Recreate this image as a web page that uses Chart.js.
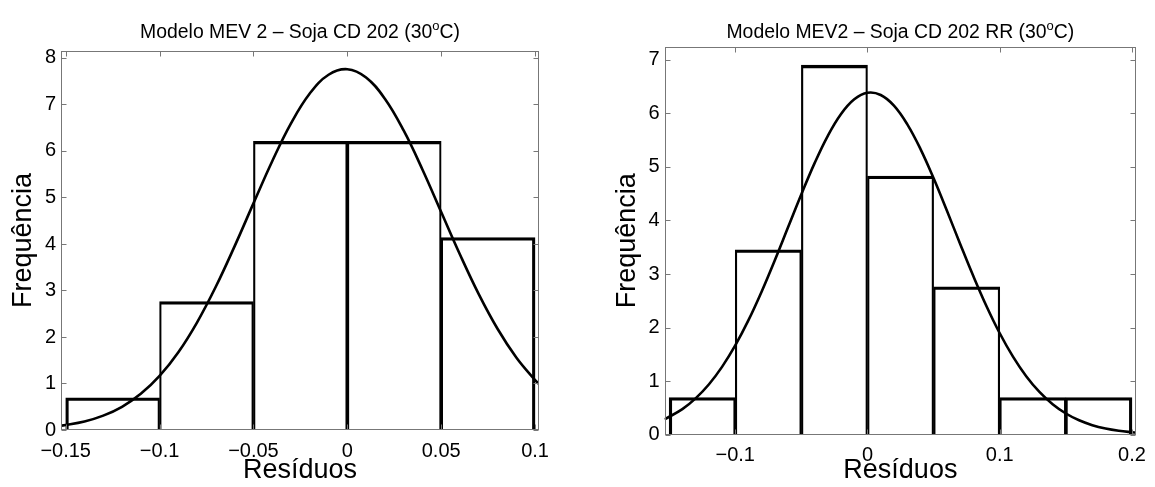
<!DOCTYPE html>
<html><head><meta charset="utf-8">
<script src="https://cdn.jsdelivr.net/npm/chart.js@4.4.1/dist/chart.umd.min.js"></script>
<style>
html,body{margin:0;padding:0;background:#fff;overflow:hidden;}
#w{position:relative;width:1155px;height:487px;background:#fff;}
canvas{position:absolute;top:0;}
#c1{left:0;}
#c2{left:580px;}
</style></head><body>
<div id="w"><canvas id="c1" width="577" height="487"></canvas><canvas id="c2" width="575" height="487"></canvas></div>
<script>
// ---- Left chart data ----
const titleL = ['Modelo MEV 2 \u2013 Soja CD 202 (30', 'o', 'C)'];
const binEdgesL = [-0.15, -0.1, -0.05, 0, 0.05, 0.1];
const freqL = [0.69, 2.76, 6.21, 6.21, 4.14];
const curveXL = [-0.152, -0.14, -0.13, -0.12, -0.11, -0.10, -0.09, -0.08, -0.07, -0.06, -0.05, -0.04, -0.03, -0.02, -0.01, 0, 0.01, 0.02, 0.03, 0.04, 0.05, 0.06, 0.07, 0.08, 0.09, 0.10, 0.102];
const curveYL = [0.094, 0.184, 0.309, 0.499, 0.777, 1.162, 1.672, 2.316, 3.085, 3.954, 4.873, 5.779, 6.594, 7.236, 7.639, 7.758, 7.580, 7.124, 6.441, 5.603, 4.688, 3.774, 2.922, 2.177, 1.560, 1.075, 0.993];
const xTickValsL = [-0.15, -0.1, -0.05, 0, 0.05, 0.1];
const xTickLabelsL = ['\u22120.15', '\u22120.1', '\u22120.05', '0', '0.05', '0.1'];
const yTickValsL = [0, 1, 2, 3, 4, 5, 6, 7, 8];
const yTickLabelsL = ['0', '1', '2', '3', '4', '5', '6', '7', '8'];

// ---- Right chart data ----
const titleR = ['Modelo MEV2 \u2013 Soja CD 202 RR (30', 'o', 'C)'];
const binEdgesR = [-0.15, -0.1, -0.05, 0, 0.05, 0.1, 0.15, 0.2];
const freqR = [0.69, 3.45, 6.90, 4.83, 2.76, 0.69, 0.69];
const curveXR = [-0.1535, -0.14, -0.13, -0.12, -0.11, -0.10, -0.09, -0.08, -0.07, -0.06, -0.05, -0.04, -0.03, -0.02, -0.01, 0, 0.01, 0.02, 0.03, 0.04, 0.05, 0.06, 0.07, 0.08, 0.09, 0.10, 0.11, 0.12, 0.13, 0.14, 0.15, 0.16, 0.17, 0.18, 0.19, 0.20, 0.203];
const curveYR = [0.284, 0.475, 0.676, 0.936, 1.265, 1.665, 2.137, 2.674, 3.261, 3.876, 4.490, 5.071, 5.582, 5.989, 6.263, 6.385, 6.344, 6.145, 5.800, 5.338, 4.787, 4.185, 3.566, 2.962, 2.398, 1.893, 1.456, 1.091, 0.797, 0.568, 0.394, 0.267, 0.176, 0.113, 0.071, 0.043, 0.037];
const xTickValsR = [-0.1, 0, 0.1, 0.2];
const xTickLabelsR = ['\u22120.1', '0', '0.1', '0.2'];
const yTickValsR = [0, 1, 2, 3, 4, 5, 6, 7];
const yTickLabelsR = ['0', '1', '2', '3', '4', '5', '6', '7'];

const xLabel = 'Res\u00edduos';
const yLabel = 'Frequ\u00eancia';

Chart.defaults.font.family = '"Liberation Sans", Arial, Helvetica, sans-serif';
Chart.defaults.color = '#000';

const frame = {
  id: 'frame',
  afterDraw(chart, args, opts) {
    const {ctx, chartArea: a, scales: {x, y}} = chart;
    ctx.save();
    ctx.strokeStyle = '#777';
    ctx.lineWidth = 1;
    const L = Math.round(a.left) + 0.5, R = Math.round(a.right) - 0.5, T = Math.round(a.top) + 0.5, B = Math.round(a.bottom) - 0.5;
    ctx.strokeRect(L, T, R - L, B - T);
    ctx.beginPath();
    x.ticks.forEach(t => {
      const p = Math.round(x.getPixelForValue(t.value)) + 0.5;
      ctx.moveTo(p, B); ctx.lineTo(p, B - 5);
      ctx.moveTo(p, T); ctx.lineTo(p, T + 5);
    });
    y.ticks.forEach(t => {
      const p = Math.round(y.getPixelForValue(t.value)) + 0.5;
      ctx.moveTo(L, p); ctx.lineTo(L + 5, p);
      ctx.moveTo(R, p); ctx.lineTo(R - 5, p);
    });
    ctx.stroke();
    // title with superscript
    const [main, sup, tail] = opts.title;
    const f1 = '19.4px "Liberation Sans", Arial, sans-serif';
    const f2 = '13px "Liberation Sans", Arial, sans-serif';
    ctx.font = f1; const w1 = ctx.measureText(main).width; const w3 = ctx.measureText(tail).width;
    ctx.font = f2; const w2 = ctx.measureText(sup).width;
    const total = w1 + w2 + w3;
    let sx = (a.left + a.right) / 2 - total / 2;
    const by = opts.baseline;
    ctx.fillStyle = '#000';
    ctx.textBaseline = 'alphabetic';
    ctx.textAlign = 'left';
    ctx.font = f1; ctx.fillText(main, sx, by); sx += w1;
    ctx.font = f2; ctx.fillText(sup, sx, by - 8); sx += w2;
    ctx.font = f1; ctx.fillText(tail, sx, by);
    ctx.restore();
  }
};

function makeChart(id, cfg) {
  const centers = cfg.edges.slice(0, -1).map((e, i) => (e + cfg.edges[i + 1]) / 2);
  const n = cfg.freq.length;
  return new Chart(document.getElementById(id), {
    type: 'bar',
    data: {
      datasets: [
        {
          type: 'line',
          order: 0,
          data: cfg.cx.map((v, i) => ({x: v, y: cfg.cy[i]})),
          borderColor: '#000',
          borderWidth: 2.6,
          pointRadius: 0,
          tension: 0.4,
          fill: false
        },
        {
          type: 'bar',
          order: 1,
          data: centers.map((c, i) => ({x: c, y: cfg.freq[i]})),
          backgroundColor: 'rgba(255,255,255,0)',
          borderColor: '#000',
          borderSkipped: false,
          borderWidth: ctx => ({top: 2.6, bottom: 0, left: ctx.dataIndex === 0 ? 2.6 : 1.5, right: ctx.dataIndex === n - 1 ? 2.6 : 1.5}),
          barPercentage: 1,
          categoryPercentage: 1
        }
      ]
    },
    options: {
      responsive: false,
      animation: false,
      devicePixelRatio: 1,
      layout: {padding: cfg.pad},
      plugins: {
        legend: {display: false},
        tooltip: {enabled: false},
        title: {display: false},
        frame: {title: cfg.title, baseline: 38}
      },
      scales: {
        x: {
          type: 'linear',
          offset: false,
          min: cfg.xmin, max: cfg.xmax,
          grid: {display: false, drawTicks: false},
          border: {display: false},
          afterBuildTicks: ax => { ax.ticks = cfg.xt.map(v => ({value: v})); },
          afterFit: ax => { ax.height = cfg.xh; },
          ticks: {
            font: {size: 20},
            color: '#000',
            padding: 9,
            maxRotation: 0,
            autoSkip: false,
            callback: (v, i) => cfg.xl[i]
          },
          title: {display: true, text: xLabel, font: {size: 27}, color: '#000', padding: {top: 0, bottom: 0}}
        },
        y: {
          type: 'linear',
          min: 0, max: cfg.ymax,
          grid: {display: false, drawTicks: false},
          border: {display: false},
          afterBuildTicks: ax => { ax.ticks = cfg.yt.map(v => ({value: v})); },
          afterFit: ax => { ax.width = cfg.yw; },
          ticks: {
            font: {size: 20},
            color: '#000',
            padding: 5,
            autoSkip: false,
            callback: (v, i) => cfg.yl[i]
          },
          title: {display: true, text: yLabel, font: {size: 27}, color: '#000', padding: {top: cfg.ytp, bottom: 0}}
        }
      }
    },
    plugins: [frame]
  });
}

makeChart('c1', {
  edges: binEdgesL, freq: freqL, cx: curveXL, cy: curveYL,
  xt: xTickValsL, xl: xTickLabelsL, yt: yTickValsL, yl: yTickLabelsL,
  xmin: -0.1525, xmax: 0.1021, ymax: 8.15,
  pad: {left: 0, right: 38, top: 51, bottom: 0}, xh: 57, yw: 61, ytp: 7,
  title: titleL
});
makeChart('c2', {
  edges: binEdgesR, freq: freqR, cx: curveXR, cy: curveYR,
  xt: xTickValsR, xl: xTickLabelsR, yt: yTickValsR, yl: yTickLabelsR,
  xmin: -0.1535, xmax: 0.2032, ymax: 7.24,
  pad: {left: 0, right: 12, top: 47, bottom: 0}, xh: 52.4, yw: 84.5, ytp: 31,
  title: titleR
});
</script>
</body></html>
